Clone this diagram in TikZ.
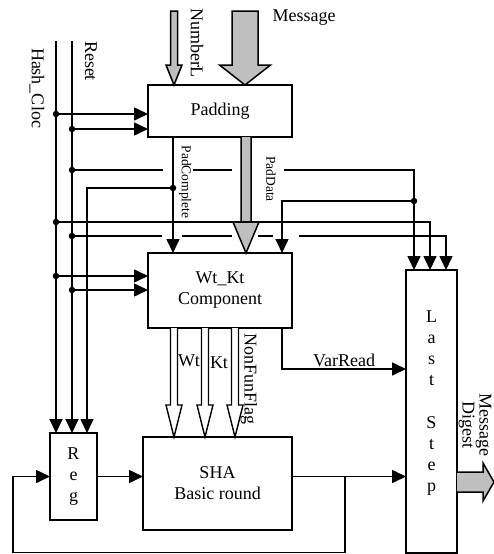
\documentclass[tikz,border=0pt]{standalone}
\usepackage{fontspec}
\setmainfont{Liberation Serif}
\usetikzlibrary{arrows.meta,positioning,calc}

\begin{document}
\begin{tikzpicture}[x=1pt,y=-1pt,
 every node/.style={font=\fontsize{18}{21}\selectfont,align=center,inner sep=1pt},
 blk/.style={rectangle,draw,line width=2pt,outer sep=0pt,fill=white},
 wire/.style={line width=1.6pt},
 bus/.style={line width=2pt},
 arr/.style={wire,-{Triangle[length=14pt,width=13pt]}},
 junc/.style={circle,fill,inner sep=0pt,minimum size=6.5pt},
 fat/.style={draw,line width=1.5pt,fill=black!25},
 hollow/.style={draw,line width=1.4pt,fill=white},
 small/.style={font=\fontsize{13.5}{15}\selectfont},
 lbl/.style={rotate=-90}]
\useasboundingbox (0,0) rectangle (494,554);

% blocks
\node[blk,minimum width=144pt,minimum height=52pt] (pad) at (220,111) {Padding};
\node[blk,minimum width=144pt,minimum height=75pt,below=116pt of pad] (wtkt) {Wt\_Kt\\Component};
\node[blk,minimum width=47pt,minimum height=87pt] (reg) at (73.5,476.5) {R\\e\\g};
\node[blk,minimum width=149pt,minimum height=93pt] (sha) at (217.5,483.5) {SHA\\Basic round};
\node[blk,minimum width=51pt,minimum height=283pt] (last) at (431.5,411.5) {L\\a\\s\\t\\[21.5pt]S\\t\\e\\p\\\mbox{}};

% inputs and taps
\coordinate (hc) at (56,41);
\coordinate (rs) at (72,41);
\coordinate (in3) at ($(reg.north west)+(37,0)$);
\coordinate (ls1) at ($(last.north west)+(8,0)$);
\coordinate (ls2) at ($(last.north west)+(24,0)$);
\coordinate (ls3) at ($(last.north west)+(40,0)$);
\coordinate (nl) at ($(pad.north west)+(26,0)$);
\coordinate (ms) at ($(pad.north)+(25,0)$);
\coordinate (pw) at ($(wtkt.north)+(26,0)$);
\coordinate (wk2) at ($(wtkt.north east)+(-10,0)$);
\coordinate (vr) at ($(wtkt.south east)+(-10,0)$);
\coordinate (md) at ($(last.east)+(0,70.5)$);
\coordinate (fb) at ($(reg.east -| sha.east)+(53,0)$);

\node[junc] (hA) at (56,114) {};
\node[junc] (rA) at (72,129) {};
\node[junc] (rB) at (72,170) {};
\node[junc] (pc) at (173,188) {};
\node[junc] (pd) at (414,201) {};
\node[junc] (hB) at (56,222) {};
\node[junc] (rC) at (72,236) {};
\node[junc] (hC) at (56,276) {};
\node[junc] (rD) at (72,290) {};

% wide data arrows
\draw[fat] ($(nl)+(-3.5,-74)$) -- ($(nl)+(-3.5,-20)$) -- ($(nl)+(-8,-20)$) -- (nl)
  -- ($(nl)+(8,-20)$) -- ($(nl)+(3.5,-20)$) -- ($(nl)+(3.5,-74)$) -- cycle;
\draw[fat] ($(ms)+(-13,-74)$) -- ($(ms)+(-13,-20)$) -- ($(ms)+(-25.5,-20)$) -- (ms)
  -- ($(ms)+(25.5,-20)$) -- ($(ms)+(13,-20)$) -- ($(ms)+(13,-74)$) -- cycle;
\draw[fat] ($(pw |- pad.south)+(-5,0)$) -- ($(pw)+(-5,-31)$) -- ($(pw)+(-13,-31)$) -- (pw)
  -- ($(pw)+(13,-31)$) -- ($(pw)+(5,-31)$) -- ($(pw |- pad.south)+(5,0)$);
\draw[fat] ($(md)+(0,-10)$) -- ($(md)+(26,-10)$) -- ($(md)+(26,-19)$) -- ($(md)+(37,0)$)
  -- ($(md)+(26,19)$) -- ($(md)+(26,10)$) -- ($(md)+(0,10)$);
\foreach \dx in {-46,-15,15}
  \draw[hollow] ($(wtkt.south)+(\dx-3.5,0)$) -- ($(wtkt.south |- sha.north)+(\dx-3.5,-32)$)
    -- ($(wtkt.south |- sha.north)+(\dx-8,-32)$) -- ($(wtkt.south |- sha.north)+(\dx,0)$)
    -- ($(wtkt.south |- sha.north)+(\dx+8,-32)$) -- ($(wtkt.south |- sha.north)+(\dx+3.5,-32)$)
    -- ($(wtkt.south)+(\dx+3.5,0)$);

% clock and reset
\draw[arr,bus] (hc) -- (hc |- reg.north);
\draw[arr,bus] (rs) -- (rs |- reg.north);
\draw[arr] (hA) -- (hA -| pad.west);
\draw[arr] (rA) -- (rA -| pad.west);
\draw[arr] (hC) -- (hC -| wtkt.west);
\draw[arr] (rD) -- (rD -| wtkt.west);
\draw[wire] (rB) -- ($(pc |- rB)+(-10,0)$);
\draw[wire] ($(pc |- rB)+(20,0)$) -- ($(pw |- rB)+(-14,0)$);
\draw[arr] ($(pw |- rB)+(38,0)$) -| (ls1);
\draw[arr] (hB) -| (ls2);
\draw[wire] (rC) -- ($(pc |- rC)+(-11,0)$);
\draw[wire] ($(pc |- rC)+(9,0)$) -- ($(pw |- rC)+(-14,0)$);
\draw[wire] ($(pw |- rC)+(12,0)$) -- ($(pw |- rC)+(27,0)$);
\draw[arr] ($(pw |- rC)+(53,0)$) -| (ls3);

% padding outputs
\draw[arr] (pad.south -| pc.center) -- (pc.center |- wtkt.north);
\draw[arr] (pc) -| (in3);
\draw[arr] (pd) -| (wk2);

% round and last step
\draw[arr] (reg.east) -- (reg.east -| sha.west);
\draw[arr] (reg.east -| sha.east) -- (reg.east -| last.west);
\draw[arr] (fb) -- ++(0,76) -| ($(reg.west)+(-37,0)$) -- (reg.west);
\draw[arr] (vr) |- ($(last.west)+(0,-42.5)$) node[pos=0.75,above] (vrlbl) {VarRead};

% labels
\node[lbl] (hclbl) at (37,88) {Hash\_Cloc};
\node[lbl] (rslbl) at (91,61) {Reset};
\node[lbl] (nllbl) at (197,43) {NumberL};
\node (msglbl) at (304,18) {Message};
\node[lbl,small] (pclbl) at (185,182) {PadComplete};
\node[lbl,small] (pdlbl) at (271,179) {PadData};
\node (wtlbl) at (189,361) {Wt};
\node (ktlbl) at (219,363) {Kt};
\node[lbl] (nflbl) at (249,379) {NonFunFlag};
\node[lbl] (mdlbl) at (475,425) {Message\\[-4pt]Digest};
\end{tikzpicture}
\end{document}
